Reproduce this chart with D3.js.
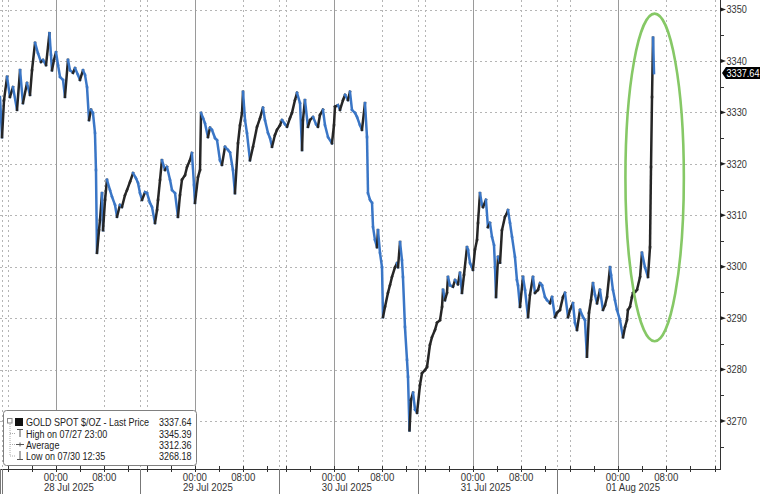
<!DOCTYPE html>
<html><head><meta charset="utf-8">
<script src="https://cdn.jsdelivr.net/npm/d3@7"></script>
<style>
body{margin:0;background:#fff;}
svg{display:block;font-family:"Liberation Sans",Arial,sans-serif;}
</style>
</head><body>
<svg id="c" width="760" height="494"></svg>
<script>
// ---------- DATA ----------
// time axis: minutes relative to 28 Jul 2025 00:00 (chart local time)
const chartStart = -615;                       // 27 Jul 13:45
const breakStarts = [-600, 840, 2280, 3720, 5160]; // daily session breaks (14:00)
const breakLengths = [60, 60, 60, 60, 0];      // minutes removed from the axis
const chartEndTrading = 7149;                  // trading minutes shown
const dayLabels = ["28 Jul 2025", "29 Jul 2025", "30 Jul 2025", "31 Jul 2025", "01 Aug 2025"];
const hourLabels = ["00:00", "08:00"];
const gridHours = [0, 8, 16];
const yTicks = [3270, 3280, 3290, 3300, 3310, 3320, 3330, 3340, 3350];
const yMinorTicks = [3265, 3275, 3285, 3295, 3305, 3315, 3325, 3335, 3345];
const yDomain = [3260.67, 3351.85];
// trading minutes since chart start
const times = [0,20,40,70,99,129,169,199,228,268,298,318,348,377,407,427,457,491,506,516,536,556,576,596,626,645,675,695,725,745,774,794,824,844,864,884,904,923,943,953,963,
983,993,1013,1023,1043,1062,1092,1112,1142,1162,1191,1211,1241,1261,1291,1321,1350,1370,1390,1410,1440,1460,1489,1509,1539,1559,1569,1589,1608,1638,1658,1688,1708,1738,1767,1787,1807,1837,1857,1886,1906,1926,1936,1966,1986,1996,2016,2035,2065,2085,2105,2135,2155,2184,2204,2234,2264,2284,2313,2333,2363,2383,2403,2413,2433,2452,2482,
2512,2552,2582,2611,2631,2661,2681,2701,2730,2750,2780,2800,2830,2850,2879,2899,2929,2949,2979,2999,3008,3028,3058,3078,3108,3138,3157,3177,3207,3227,3257,3296,3316,3326,3356,3376,3406,3426,3455,3475,3495,3525,3545,3574,3594,3624,3644,
3654,3674,3694,3704,3723,3743,3753,3773,3793,3803,3823,3852,3872,3892,3922,3942,3952,3972,3991,4001,4021,4041,4051,4066,4081,4101,4121,4141,4170,4190,4220,4240,4269,4289,4319,4339,4369,4389,4399,4418,4438,4448,
4468,4498,4518,4547,4567,4587,4607,4637,4647,4667,4696,4716,4736,4746,4766,4786,4796,4825,4845,4865,4885,4905,4915,4925,4945,4965,4984,5014,5034,5044,5064,5084,5113,5133,5143,5163,5193,5213,5243,5262,5292,5312,5342,5362,5382,5411,5431,5461,5481,5511,5530,5560,5590,5610,5640,5660,5689,5709,5729,5759,5789,5808,5828,5848,5868,5888,5908,5928,5957,5987,6007,6027,6057,6067,6086,6106,6126,6156,6186,6206,6225,6235,6255,6275,6285,6305,6325,6355,6374,6404,6434,6454,6464,6474,6484,6494];
const prices = [3333.0,3325.2,3332.4,3336.9,3333.0,3334.9,3330.5,3338.2,3331.8,3335.7,3333.4,3338.2,3343.5,3341.5,3339.8,3340.2,3339.2,3345.39,3341.2,3338.2,3340.2,3341.7,3339.2,3336.9,3336.3,3333.0,3340.2,3338.2,3337.7,3338.6,3337.3,3336.3,3338.2,3337.3,3334.9,3328.5,3330.5,3329.9,3326.0,3318.8,3302.7,
3307.1,3309.1,3314.3,3307.1,3313.0,3316.9,3314.9,3313.6,3312.0,3309.7,3312.0,3311.6,3313.9,3314.9,3316.5,3318.2,3317.2,3316.3,3314.3,3313.0,3314.5,3314.3,3312.4,3311.6,3308.5,3311.0,3313.0,3316.9,3320.7,3318.8,3319.4,3316.9,3314.9,3314.3,3309.7,3313.9,3316.9,3317.8,3319.4,3320.7,3322.1,3315.9,3312.4,3317.4,3318.8,3329.9,3328.9,3327.9,3325.2,3327.0,3326.6,3325.0,3324.6,3320.7,3319.8,3323.3,3322.7,3322.2,3318.8,3314.3,3324.0,3327.5,3329.9,3334.0,3328.5,3326.0,3320.7,
3323.3,3327.2,3328.9,3330.9,3328.5,3326.0,3325.0,3323.3,3325.6,3326.6,3327.5,3328.5,3327.7,3327.2,3328.9,3329.9,3332.4,3333.8,3331.8,3322.7,3328.5,3332.4,3327.2,3328.5,3329.1,3327.7,3327.2,3329.5,3330.5,3327.5,3325.2,3324.0,3327.5,3331.1,3331.4,3330.5,3332.4,3333.4,3332.4,3334.0,3330.5,3329.9,3329.1,3327.5,3326.6,3331.8,3325.2,
3314.3,3313.0,3312.4,3307.7,3305.2,3303.8,3307.1,3302.7,3299.9,3290.2,3292.2,3294.9,3296.4,3298.0,3299.9,3300.7,3299.9,3304.8,3301.3,3298.0,3288.3,3281.9,3278.6,3268.18,3274.1,3275.5,3272.2,3271.6,3277.0,3279.3,3279.9,3280.5,3284.8,3286.3,3287.7,3289.1,3289.6,3292.2,3295.5,3293.5,3294.9,3298.0,
3296.4,3296.1,3297.4,3296.6,3298.8,3294.9,3298.4,3303.8,3303.3,3300.7,3299.4,3303.3,3305.2,3308.5,3314.3,3312.0,3311.6,3313.0,3307.7,3308.5,3305.8,3304.2,3299.9,3294.1,3301.9,3300.8,3307.1,3309.7,3310.4,3311.0,3308.5,3305.8,3301.9,3297.4,3296.4,3292.2,3298.0,3295.5,3290.2,3294.5,3298.0,3294.9,3295.5,3296.8,3296.4,3294.1,3293.5,3292.9,3294.1,3290.2,3291.0,3291.6,3294.1,3294.9,3290.2,3291.6,3292.9,3289.1,3287.7,3291.6,3290.2,3289.6,3282.5,3291.0,3293.5,3296.8,3294.5,3292.9,3295.5,3291.6,3292.5,3294.1,3299.9,3298.4,3295.5,3293.5,3291.6,3289.6,3286.3,3288.3,3289.6,3291.6,3292.2,3294.1,3294.9,3295.1,3295.5,3298.0,3302.7,3299.9,3298.0,3303.8,3319.4,3333.0,3344.5,3337.64];
const legendRows = [
  {label: "GOLD SPOT $/OZ - Last Price", value: "3337.64"},
  {label: "High on 07/27 23:00", value: "3345.39"},
  {label: "Average", value: "3312.36"},
  {label: "Low on 07/30 12:35", value: "3268.18"}
];
const lastPrice = 3337.64;
const highlight = {t0: 6210, t1: 6790, p0: 3285.5, p1: 3349.2};

// ---------- LAYOUT ----------
const W = 760, H = 494;
const plot = {left: 0, right: 720, top: 0, bottom: 469};
const svg = d3.select("#c");
const SX = 0.87; // narrow terminal-style font

function tm(real) {
  let v = real - chartStart;
  breakStarts.forEach((b, i) => { v -= Math.max(0, Math.min(real - b, breakLengths[i])); });
  return v;
}
const x = d3.scaleLinear().domain([0, chartEndTrading]).range([plot.left, plot.right]);
const y = d3.scaleLinear().domain(yDomain).range([plot.bottom, plot.top]);
function place(sel, fx, fy, sx) {
  sel.attr("x", 0).attr("y", 0)
    .attr("transform", (d, i) => `translate(${fx(d, i)},${fy(d, i)}) scale(${sx},1)`);
}

// grid: horizontal dotted
svg.append("g").selectAll("line").data(yTicks).join("line")
  .attr("x1", plot.left).attr("x2", plot.right)
  .attr("y1", d => Math.round(y(d)) + 0.5).attr("y2", d => Math.round(y(d)) + 0.5)
  .attr("stroke", "#b5b5b5").attr("stroke-dasharray", "2,3");

// vertical grid lines
const vgrid = [];
for (let day = -1; day < 5; day++) {
  gridHours.forEach(h => {
    const real = day * 1440 + h * 60;
    const t = tm(real);
    if (t >= 0 && t <= chartEndTrading) vgrid.push({t, solid: h === 0});
  });
}
breakStarts.forEach(b => { const t = tm(b); if (t >= 0 && t <= chartEndTrading) vgrid.push({t, solid: false}); });
svg.append("g").selectAll("line").data(vgrid).join("line")
  .attr("x1", d => Math.round(x(d.t)) + 0.5).attr("x2", d => Math.round(x(d.t)) + 0.5)
  .attr("y1", plot.top).attr("y2", plot.bottom)
  .attr("stroke", d => d.solid ? "#9a9a9a" : "#b5b5b5")
  .attr("stroke-dasharray", d => d.solid ? null : "2,3");

// price series
const pts = times.map((t, i) => [t, prices[i]]);
const segs = pts.slice(1).map((p, i) => ({a: pts[i], b: p, up: p[1] >= pts[i][1]}));
svg.append("g").selectAll("line").data(segs).join("line")
  .attr("x1", d => x(d.a[0])).attr("y1", d => y(d.a[1]))
  .attr("x2", d => x(d.b[0])).attr("y2", d => y(d.b[1]))
  .attr("stroke", d => d.up ? "#262626" : "#3a76c6")
  .attr("stroke-width", 2.5).attr("stroke-linecap", "square");

// highlight ellipse
svg.append("ellipse")
  .attr("cx", (x(highlight.t0) + x(highlight.t1)) / 2)
  .attr("cy", (y(highlight.p0) + y(highlight.p1)) / 2)
  .attr("rx", (x(highlight.t1) - x(highlight.t0)) / 2)
  .attr("ry", (y(highlight.p0) - y(highlight.p1)) / 2)
  .attr("fill", "none").attr("stroke", "#86c866").attr("stroke-width", 2.6);

// axes lines
svg.append("line").attr("x1", plot.right + 0.5).attr("x2", plot.right + 0.5)
  .attr("y1", plot.top).attr("y2", plot.bottom + 0.5).attr("stroke", "#333");
svg.append("line").attr("x1", plot.left).attr("x2", plot.right + 1)
  .attr("y1", plot.bottom + 0.5).attr("y2", plot.bottom + 0.5).attr("stroke", "#333");

// y axis ticks + labels
const ya = svg.append("g");
ya.selectAll("path").data(yTicks).join("path")
  .attr("d", d => { const yy = y(d); return `M${plot.right},${yy - 2.2}L${plot.right + 6},${yy}L${plot.right},${yy + 2.2}Z`; })
  .attr("fill", "#222");
ya.selectAll("line").data(yMinorTicks).join("line")
  .attr("x1", plot.right).attr("x2", plot.right + 4)
  .attr("y1", d => Math.round(y(d)) + 0.5).attr("y2", d => Math.round(y(d)) + 0.5)
  .attr("stroke", "#333");
ya.selectAll("text").data(yTicks).join("text")
  .attr("font-size", 10.5).attr("fill", "#333").text(d => d)
  .call(place, () => plot.right + 6.5, d => y(d) + 3.8, SX);

// last price tag
const ly = y(lastPrice);
svg.append("path")
  .attr("d", `M${plot.right + 2},${ly}L${plot.right + 6},${ly - 6}L${W},${ly - 6}L${W},${ly + 6}L${plot.right + 6},${ly + 6}Z`)
  .attr("fill", "#000");
svg.append("text").datum(lastPrice)
  .attr("font-size", 10.5).attr("fill", "#fff").text(d => d.toFixed(2))
  .call(place, () => plot.right + 6.5, () => ly + 3.8, SX);

// x axis: minor ticks every 4h
const xa = svg.append("g");
const minor = [];
for (let day = -1; day < 5; day++) for (let h = 0; h < 24; h += 4) {
  const real = day * 1440 + h * 60;
  if (real < chartStart) continue;
  const t = tm(real);
  if (t >= 0 && t <= chartEndTrading) minor.push(t);
}
xa.selectAll("line.mt").data(minor).join("line").attr("class", "mt")
  .attr("x1", d => Math.round(x(d)) + 0.5).attr("x2", d => Math.round(x(d)) + 0.5)
  .attr("y1", plot.bottom - 3).attr("y2", plot.bottom + 3).attr("stroke", "#333");
// session separators below axis
const seps = [0].concat(breakStarts.map(tm).filter(t => t > 0 && t < chartEndTrading));
xa.selectAll("line.sep").data(seps).join("line").attr("class", "sep")
  .attr("x1", d => Math.round(x(d)) + 0.5).attr("x2", d => Math.round(x(d)) + 0.5)
  .attr("y1", plot.bottom).attr("y2", H).attr("stroke", "#777");
// hour labels and date labels
const labs = [];
dayLabels.forEach((dl, day) => {
  hourLabels.forEach(hl => {
    const real = day * 1440 + (+hl.slice(0, 2)) * 60;
    labs.push({t: tm(real), text: hl});
  });
});
xa.selectAll("text.h").data(labs).join("text").attr("class", "h")
  .attr("text-anchor", "middle").attr("font-size", 10.5).attr("fill", "#333").text(d => d.text)
  .call(place, d => x(d.t), () => plot.bottom + 11.5, 0.92);
xa.selectAll("text.d").data(dayLabels).join("text").attr("class", "d")
  .attr("font-size", 10.5).attr("fill", "#333").text(d => d)
  .call(place, (d, i) => x(tm(i * 1440)) - 12, () => plot.bottom + 22, 0.92);

// legend
const lg = svg.append("g");
lg.append("rect").attr("x", 3.5).attr("y", 410.5).attr("width", 193).attr("height", 55).attr("rx", 3)
  .attr("fill", "#fff").attr("stroke", "#808080");
const rowY = [426, 437.5, 448.5, 460];
lg.append("rect").attr("x", 7.5).attr("y", 418.5).attr("width", 4.5).attr("height", 4.5)
  .attr("fill", "none").attr("stroke", "#888");
lg.append("rect").attr("x", 15).attr("y", 418).attr("width", 8).attr("height", 8).attr("fill", "#111");
lg.append("line").attr("x1", 10).attr("x2", 10).attr("y1", 424).attr("y2", 456)
  .attr("stroke", "#aaa").attr("stroke-dasharray", "1,1");
[433.5, 444.5, 456].forEach(yy => lg.append("line").attr("x1", 10).attr("x2", 16).attr("y1", yy).attr("y2", yy)
  .attr("stroke", "#aaa").attr("stroke-dasharray", "1,1"));
lg.append("path").attr("d", "M17,429.5H23M20,429.5V437").attr("stroke", "#555").attr("fill", "none");
lg.append("path").attr("d", "M16,444.5H24M20,442.5V446.5").attr("stroke", "#555").attr("fill", "none");
lg.append("path").attr("d", "M20,451V459.5M17,459.5H23").attr("stroke", "#555").attr("fill", "none");
lg.selectAll("text.l").data(legendRows).join("text").attr("class", "l")
  .attr("font-size", 11).attr("fill", "#222").text(d => d.label)
  .call(place, () => 26, (d, i) => rowY[i], 0.82);
lg.selectAll("text.v").data(legendRows).join("text").attr("class", "v")
  .attr("text-anchor", "end").attr("font-size", 11).attr("fill", "#222").text(d => d.value)
  .call(place, () => 191.5, (d, i) => rowY[i], 0.82);
</script>
</body></html>
